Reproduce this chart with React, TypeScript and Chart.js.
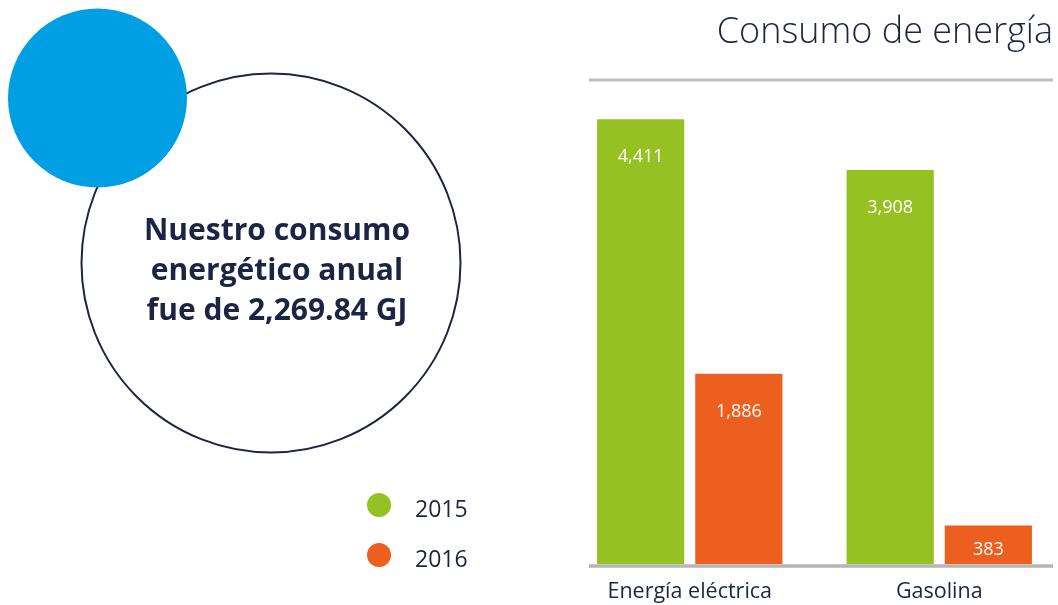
import React, { useEffect, useRef } from "react";
import { Chart, registerables } from "chart.js";

Chart.register(...registerables);

const categories = ["Energía eléctrica", "Gasolina"];
const seriesLabels = ["2015", "2016"];
const values2015 = [4411, 3908];
const values2016 = [1886, 383];
const seriesColors = ["#96c123", "#ec5f1f"];
const titleText = "Consumo de energía";
const summaryLines = ["Nuestro consumo", "energético anual", "fue de 2,269.84 GJ"];

const NAVY = "#1b2443";
const FONT = "'Open Sans', 'DejaVu Sans', sans-serif";

const decorPlugin = {
  id: "decor",
  beforeDraw(chart: any) {
    const ctx = chart.ctx;
    ctx.save();
    // big outlined circle
    ctx.beginPath();
    ctx.arc(271, 263, 189.5, 0, Math.PI * 2);
    ctx.strokeStyle = NAVY;
    ctx.lineWidth = 2;
    ctx.stroke();
    // blue circle
    ctx.beginPath();
    ctx.arc(97.5, 98, 89.5, 0, Math.PI * 2);
    ctx.fillStyle = "#009fe3";
    ctx.fill();
    // summary text
    ctx.fillStyle = NAVY;
    ctx.font = `bold 30px ${FONT}`;
    ctx.textAlign = "center";
    ctx.textBaseline = "alphabetic";
    summaryLines.forEach((l, i) => ctx.fillText(l, 277, 240 + i * 40));
    // legend
    chart.data.datasets.forEach((ds: any, i: number) => {
      const cy = 505 + i * 50;
      ctx.beginPath();
      ctx.arc(379, cy, 12, 0, Math.PI * 2);
      ctx.fillStyle = ds.backgroundColor;
      ctx.fill();
      ctx.fillStyle = NAVY;
      ctx.font = `23px ${FONT}`;
      ctx.textAlign = "left";
      ctx.fillText(ds.label, 415, cy + 12);
    });
    // title
    ctx.font = `300 36px ${FONT}`;
    ctx.textAlign = "right";
    ctx.fillStyle = NAVY;
    ctx.fillText(titleText, 1053, 43);
    // top rule
    ctx.beginPath();
    ctx.moveTo(589, 80);
    ctx.lineTo(1053, 80);
    ctx.strokeStyle = "#bdbdbd";
    ctx.lineWidth = 3;
    ctx.stroke();
    ctx.restore();
  },
  afterDatasetsDraw(chart: any) {
    const ctx = chart.ctx;
    const yScale = chart.scales.y;
    const base = yScale.getPixelForValue(0);
    ctx.save();
    // axis line
    ctx.beginPath();
    ctx.moveTo(589, base + 2);
    ctx.lineTo(1053, base + 2);
    ctx.strokeStyle = "#b5b5b5";
    ctx.lineWidth = 3.5;
    ctx.stroke();
    // value labels
    ctx.fillStyle = "#ffffff";
    ctx.font = `18px ${FONT}`;
    ctx.textAlign = "center";
    ctx.textBaseline = "middle";
    chart.data.datasets.forEach((ds: any, di: number) => {
      const meta = chart.getDatasetMeta(di);
      meta.data.forEach((bar: any, i: number) => {
        const v = ds.data[i];
        const y = Math.min(bar.y + 38, base - 14);
        ctx.fillText(v.toLocaleString("en-US"), bar.x, y);
      });
    });
    ctx.restore();
  },
};

export default function App() {
  const ref = useRef<HTMLCanvasElement | null>(null);
  useEffect(() => {
    if (!ref.current) return;
    const chart = new Chart(ref.current, {
      type: "bar",
      data: {
        labels: categories,
        datasets: [
          { label: seriesLabels[0], data: values2015, backgroundColor: seriesColors[0] },
          { label: seriesLabels[1], data: values2016, backgroundColor: seriesColors[1] },
        ],
      },
      options: {
        responsive: false,
        animation: false,
        layout: { padding: { top: 80, left: 565, right: 6, bottom: 0 } },
        datasets: { bar: { categoryPercentage: 0.787, barPercentage: 0.888 } },
        plugins: { legend: { display: false }, tooltip: { enabled: false }, title: { display: false } },
        scales: {
          x: {
            grid: { display: false, drawTicks: false },
            border: { display: false },
            ticks: { color: NAVY, font: { family: FONT, size: 21.5 }, padding: 15 },
            afterFit: (scale: any) => { scale.height = 41; },
          },
          y: { display: false, min: 0, max: 4800 },
        },
      },
      plugins: [decorPlugin],
    });
    return () => chart.destroy();
  }, []);
  return (
    <div style={{ position: "absolute", left: 0, top: 0, width: 1058, height: 605, overflow: "hidden", background: "#fff" }}>
      <canvas ref={ref} width={1070} height={605} style={{ display: "block" }} />
    </div>
  );
}
